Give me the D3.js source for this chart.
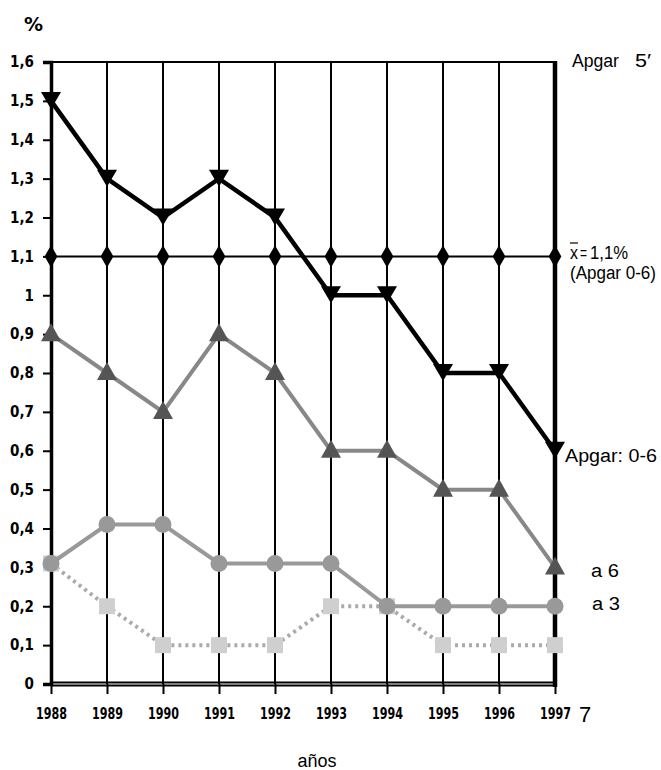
<!DOCTYPE html>
<html><head><meta charset="utf-8">
<script src="https://cdn.jsdelivr.net/npm/d3@7"></script>
<style>body{margin:0;background:#fff}svg{display:block}</style>
</head><body>
<script>
const years = [1988,1989,1990,1991,1992,1993,1994,1995,1996,1997];
const apgar06 = [1.5,1.3,1.2,1.3,1.2,1.0,1.0,0.8,0.8,0.6];
const meanValue = 1.1;
const a6 = [0.9,0.8,0.7,0.9,0.8,0.6,0.6,0.5,0.5,0.3];
const a3 = [0.31,0.41,0.41,0.31,0.31,0.31,0.2,0.2,0.2,0.2];
const a0 = [0.31,0.2,0.1,0.1,0.1,0.2,0.2,0.1,0.1,0.1];
const yTicks = [0,0.1,0.2,0.3,0.4,0.5,0.6,0.7,0.8,0.9,1,1.1,1.2,1.3,1.4,1.5,1.6];
const yTickLabels = ["0","0,1","0,2","0,3","0,4","0,5","0,6","0,7","0,8","0,9","1","1,1","1,2","1,3","1,4","1,5","1,6"];

const W=661,H=770;
const svg=d3.select("body").append("svg").attr("width",W).attr("height",H);
const x=d3.scaleLinear().domain([1988,1997]).range([51,555]);
const y=d3.scaleLinear().domain([0,1.6]).range([684,62]);
const tickFont="'DejaVu Sans Condensed','DejaVu Sans',sans-serif";
const lblFont="'Liberation Sans',Arial,sans-serif";

// vertical grid lines
svg.append("g").selectAll("line").data(years.slice(1,-1)).join("line")
 .attr("x1",d=>x(d)).attr("x2",d=>x(d)).attr("y1",y(1.6)).attr("y2",y(0))
 .attr("stroke","#000").attr("stroke-width",2);
// top line
svg.append("line").attr("x1",x(1988)-8).attr("x2",x(1997)).attr("y1",y(1.6)).attr("y2",y(1.6)).attr("stroke","#000").attr("stroke-width",2);
// left axis
const yAxis=d3.axisLeft(y).tickValues(yTicks).tickFormat((d,i)=>yTickLabels[i]).tickSize(8).tickPadding(9);
const gy=svg.append("g").attr("transform",`translate(${x(1988)},0)`).call(yAxis);
gy.select(".domain").attr("stroke","#000").attr("stroke-width",3.5);
gy.selectAll(".tick line").attr("stroke","#000").attr("stroke-width",2);
gy.selectAll(".tick text").attr("font-family",tickFont).attr("font-weight","bold").attr("font-size",15).attr("fill","#000");
// right line
svg.append("line").attr("x1",x(1997)).attr("x2",x(1997)).attr("y1",y(1.6)-1).attr("y2",y(0)+3).attr("stroke","#000").attr("stroke-width",4.5);
// bottom axis
const xAxis=d3.axisBottom(x).tickValues(years).tickFormat(d3.format("d")).tickSize(10).tickPadding(14);
const gx=svg.append("g").attr("transform",`translate(0,${y(0)})`).call(xAxis);
gx.select(".domain").remove();
gx.selectAll(".tick line").attr("stroke","#000").attr("stroke-width",2);
gx.selectAll(".tick text").attr("font-family",tickFont).attr("font-weight","bold").attr("font-size",16).attr("fill","#000")
  .attr("textLength",31).attr("lengthAdjust","spacingAndGlyphs");
svg.append("line").attr("x1",x(1988)).attr("x2",x(1997)).attr("y1",y(0)-1.5).attr("y2",y(0)-1.5).attr("stroke","#000").attr("stroke-width",2);
svg.append("line").attr("x1",x(1988)).attr("x2",x(1997)).attr("y1",y(0)+1.5).attr("y2",y(0)+1.5).attr("stroke","#000").attr("stroke-width",2);
svg.append("text").attr("x",579).attr("y",722).attr("font-family",lblFont).attr("font-size",22).text("7");

// mean line
svg.append("line").attr("x1",x(1988)).attr("x2",x(1997)).attr("y1",y(meanValue)).attr("y2",y(meanValue)).attr("stroke","#000").attr("stroke-width",2);
svg.append("g").selectAll("path").data(years).join("path")
 .attr("transform",d=>`translate(${x(d)},${y(meanValue)})`)
 .attr("d",d3.symbol(d3.symbolDiamond,140)).attr("fill","#000");

const line=d3.line().x((d,i)=>x(years[i])).y(d=>y(d));
// dotted squares
svg.append("path").datum(a0).attr("d",line).attr("fill","none").attr("stroke","#aaa").attr("stroke-width",4).attr("stroke-dasharray","3,4");
svg.append("g").selectAll("rect").data(a0).join("rect")
 .attr("x",(d,i)=>x(years[i])-8).attr("y",d=>y(d)-8).attr("width",16).attr("height",16).attr("fill","#cfcfcf");
// circles
svg.append("path").datum(a3).attr("d",line).attr("fill","none").attr("stroke","#999").attr("stroke-width",4);
svg.append("g").selectAll("circle").data(a3).join("circle")
 .attr("cx",(d,i)=>x(years[i])).attr("cy",d=>y(d)).attr("r",8.5).attr("fill","#999");
// a6 triangles up
svg.append("path").datum(a6).attr("d",line).attr("fill","none").attr("stroke","#888").attr("stroke-width",4);
const triUp=(cx,cy)=>`M${cx},${cy-11}L${cx+10},${cy+7}L${cx-10},${cy+7}Z`;
svg.append("g").selectAll("path").data(a6).join("path")
 .attr("d",(d,i)=>triUp(x(years[i]),y(d))).attr("fill","#555");
// apgar 0-6 triangles down
svg.append("path").datum(apgar06).attr("d",line).attr("fill","none").attr("stroke","#000").attr("stroke-width",4.5);
const triDown=(cx,cy)=>`M${cx-10},${cy-9}L${cx+10},${cy-9}L${cx},${cy+8}Z`;
svg.append("g").selectAll("path").data(apgar06).join("path")
 .attr("d",(d,i)=>triDown(x(years[i]),y(d))).attr("fill","#000");

// labels
svg.append("text").attr("x",24).attr("y",31).attr("font-family","'DejaVu Sans',sans-serif").attr("font-weight","bold").attr("font-size",19).text("%");
const lab=(t,xx,yy,fs,len)=>{const s=svg.append("text").attr("x",xx).attr("y",yy).attr("font-family",lblFont).attr("font-size",fs).attr("fill","#000").text(t);
  if(len) s.attr("textLength",len).attr("lengthAdjust","spacingAndGlyphs"); return s;};
lab("Apgar",572,67,18,47);
lab("5\u2032",635,67,18,16);
lab("x",570,259,18,8);
svg.append("line").attr("x1",570).attr("x2",578).attr("y1",243).attr("y2",243).attr("stroke","#000").attr("stroke-width",1.2);
lab("=",580,259,18,7);
lab("1,1%",590,259,18,38);
lab("(Apgar 0-6)",570,279,18,86);
lab("Apgar:  0-6",565,462,18,92);
lab("a 6",591,577,18,28);
lab("a 3",592,610,18,28);
lab("años",317,767,18).attr("text-anchor","middle");
</script>
</body></html>
